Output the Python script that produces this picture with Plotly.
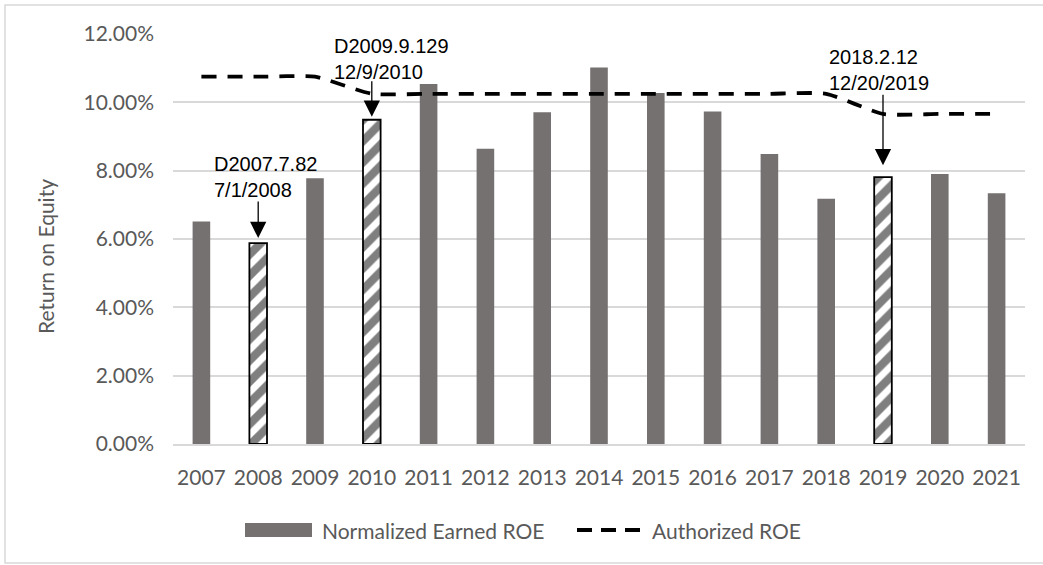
import plotly.graph_objects as go

# ---- data -------------------------------------------------------------
years = [str(y) for y in range(2007, 2022)]
earned_roe = [0.0651, 0.0588, 0.0778, 0.0949, 0.1054, 0.0864, 0.0971, 0.1102,
              0.1027, 0.0973, 0.0849, 0.0718, 0.0781, 0.0790, 0.0734]
authorized_roe = [0.1075, 0.1075, 0.1075, 0.1025, 0.1025, 0.1025, 0.1025, 0.1025,
                  0.1025, 0.1025, 0.1025, 0.1025, 0.0966, 0.0966, 0.0966]
rate_case_years = ["2008", "2010", "2019"]
rate_case_labels = ["D2007.7.82<br>7/1/2008",
                    "D2009.9.129<br>12/9/2010",
                    "2018.2.12<br>12/20/2019"]
y_ticks = [0, 0.02, 0.04, 0.06, 0.08, 0.10, 0.12]

# ---- layout geometry (pixels) -----------------------------------------
W, H = 1043, 565
PX0, PX1, PY0, PY1 = 173, 1025, 34, 444   # plot area: left, right, top, bottom


def px(x):
    return (x - PX0) / (PX1 - PX0)


def py(y):
    return (PY1 - y) / (PY1 - PY0)


GRAY_TEXT = "#595959"
BAR_GRAY = "#767171"
GRID = "#d9d9d9"
FONT = "Lato"

plain_vals = [v if y not in rate_case_years else None for y, v in zip(years, earned_roe)]
hatch_vals = [v if y in rate_case_years else None for y, v in zip(years, earned_roe)]

fig = go.Figure()

fig.add_trace(go.Bar(
    x=years, y=plain_vals, name="Normalized Earned ROE",
    marker=dict(color=BAR_GRAY, line=dict(width=0)),
    showlegend=False,
))
fig.add_trace(go.Bar(
    x=years, y=hatch_vals, name="Rate case year",
    marker=dict(color="white",
                line=dict(color="black", width=1.8),
                pattern=dict(shape="/", fgcolor="black", bgcolor="white",
                             size=15, solidity=0.55)),
    showlegend=False,
))
fig.add_trace(go.Scatter(
    x=years, y=authorized_roe, name="Authorized ROE", mode="lines",
    line=dict(color="black", width=3.8, dash="15px,11px", shape="spline", smoothing=0.55),
    showlegend=False,
))

annotations = []
# arrows pointing at the rate-case bars (category axis positions by index)
arrow_specs = {"2008": (-43, 5, -46), "2010": (-40, 3, -40), "2019": (-84, 12, -56)}
text_y = {"2008": 163, "2010": 45, "2019": 56}
for yr, label in zip(rate_case_years, rate_case_labels):
    idx = years.index(yr)
    val = earned_roe[idx]
    ay, standoff, xshift = arrow_specs[yr]
    annotations.append(dict(
        x=idx, y=val, xref="x", yref="y", text="", showarrow=True,
        ax=0, ay=ay, arrowhead=2, arrowsize=2.5, arrowwidth=1.3,
        arrowcolor="black", standoff=standoff,
    ))
    annotations.append(dict(
        x=idx, y=py(text_y[yr]), xref="x", yref="paper", text=label,
        showarrow=False, xanchor="left", yanchor="top", xshift=xshift, yshift=12,
        align="left", font=dict(family="Liberation Sans, Arial", size=20, color="black"),
    ))

# axis title
annotations.append(dict(
    x=px(45), y=py(257), xref="paper", yref="paper", text="Return on Equity",
    showarrow=False, textangle=-90, xanchor="center", yanchor="middle",
    font=dict(family=FONT, size=21, color=GRAY_TEXT),
))

# legend entries
annotations.append(dict(
    x=px(320), y=py(530), xref="paper", yref="paper", text="Normalized Earned ROE",
    showarrow=False, xanchor="left", yanchor="middle",
    font=dict(family=FONT, size=21, color=GRAY_TEXT),
))
annotations.append(dict(
    x=px(650), y=py(530), xref="paper", yref="paper", text="Authorized ROE",
    showarrow=False, xanchor="left", yanchor="middle",
    font=dict(family=FONT, size=21, color=GRAY_TEXT),
))

shapes = [
    # legend swatch for bars
    dict(type="rect", xref="paper", yref="paper",
         x0=px(245), x1=px(312), y0=py(537), y1=py(523),
         fillcolor=BAR_GRAY, line=dict(width=0)),
    # legend swatch for dashed line
    dict(type="line", xref="paper", yref="paper",
         x0=px(577), x1=px(641), y0=py(530), y1=py(530),
         line=dict(color="black", width=3.8, dash="15px,9px")),
    # chart border
    dict(type="rect", xref="paper", yref="paper",
         x0=px(5), x1=px(1050), y0=py(563), y1=py(5),
         line=dict(color=GRID, width=1.5), fillcolor="rgba(0,0,0,0)", layer="below"),
]

fig.update_layout(
    width=W, height=H,
    margin=dict(l=PX0, r=W - PX1, t=PY0, b=H - PY1, pad=0),
    paper_bgcolor="white", plot_bgcolor="white",
    barmode="overlay", bargap=0.69,
    showlegend=False,
    font=dict(family=FONT, color=GRAY_TEXT, size=21),
    annotations=annotations,
    shapes=shapes,
    xaxis=dict(
        type="category", range=[-0.5, len(years) - 0.5],
        showgrid=False, showline=True, linecolor=GRID, linewidth=1.5,
        ticks="", tickfont=dict(family=FONT, size=21, color=GRAY_TEXT),
        ticklabelstandoff=14, zeroline=False,
    ),
    yaxis=dict(
        range=[0, 0.12], tickvals=y_ticks, tickformat=".2%",
        showgrid=True, gridcolor=GRID, gridwidth=1.5, showline=False, zeroline=False,
        ticks="", tickfont=dict(family=FONT, size=21, color=GRAY_TEXT),
        ticklabelstandoff=18,
    ),
)

fig.write_html("out.html")
